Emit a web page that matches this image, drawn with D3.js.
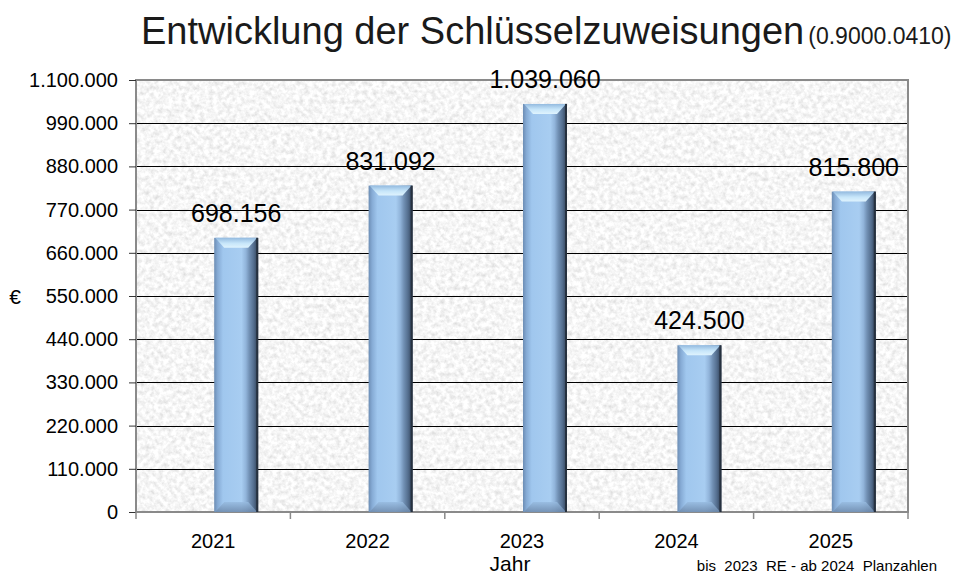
<!DOCTYPE html>
<html>
<head>
<meta charset="utf-8">
<script src="https://cdn.jsdelivr.net/npm/d3@7"></script>
<style>
  html, body { margin: 0; padding: 0; background: #fff; }
  svg { display: block; font-family: "Liberation Sans", Arial, sans-serif; }
</style>
</head>
<body>
<svg id="chart" width="956" height="577"></svg>
<script>
// Schlüsselzuweisungen je Jahr (bis 2023 Rechnungsergebnis, ab 2024 Plan)
const years = ["2021", "2022", "2023", "2024", "2025"];
const amounts = [698156, 831092, 1039060, 424500, 815800];
const yTicks = [0, 110000, 220000, 330000, 440000, 550000, 660000, 770000, 880000, 990000, 1100000];

const titleMain = "Entwicklung der Schlüsselzuweisungen";
const titleCode = "(0.9000.0410)";
const yTitle = "€";
const xTitle = "Jahr";
const footnote = "bis  2023  RE - ab 2024  Planzahlen";

const svg = d3.select("#chart");
const plot = { left: 136, right: 908, top: 80, bottom: 512 };

const de = d3.formatLocale({ decimal: ",", thousands: ".", grouping: [3], currency: ["", " €"] });
const fmt = de.format(",d");

const x = d3.scaleBand().domain(years).range([plot.left, plot.right]).paddingInner(0).paddingOuter(0);
const y = d3.scaleLinear().domain([0, 1100000]).range([plot.bottom, plot.top]);

const defs = svg.append("defs");

// granite-like texture for the plot background
const tex = defs.append("filter").attr("id", "granite")
  .attr("x", 0).attr("y", 0).attr("width", 1).attr("height", 1);
tex.append("feTurbulence").attr("type", "fractalNoise")
  .attr("baseFrequency", 0.22).attr("numOctaves", 3).attr("seed", 7).attr("result", "n");
tex.append("feColorMatrix").attr("in", "n").attr("type", "matrix")
  .attr("values", "0.5 0 0 0 0.67  0.5 0 0 0 0.67  0.5 0 0 0 0.67  0 0 0 0 1");

// bar face: shaded from left to right
const face = defs.append("linearGradient").attr("id", "barFace")
  .attr("x1", 0).attr("x2", 1).attr("y1", 0).attr("y2", 0);
[[0, "#6c8db4"], [0.08, "#86abd5"], [0.2, "#a0c7ee"], [0.62, "#a8cdf1"],
 [0.72, "#91b4da"], [0.8, "#7190b4"], [0.9, "#536d8d"], [1, "#2e3d52"]]
  .forEach(([o, c]) => face.append("stop").attr("offset", o).attr("stop-color", c));

const topBevel = defs.append("linearGradient").attr("id", "barTop")
  .attr("x1", 0).attr("x2", 0).attr("y1", 0).attr("y2", 1);
[[0, "#93badf"], [0.55, "#c7e6fa"], [1, "#dff3fd"]]
  .forEach(([o, c]) => topBevel.append("stop").attr("offset", o).attr("stop-color", c));

const botBevel = defs.append("linearGradient").attr("id", "barBottom")
  .attr("x1", 0).attr("x2", 0).attr("y1", 0).attr("y2", 1);
[[0, "#97bbe0"], [1, "#6d89ab"]]
  .forEach(([o, c]) => botBevel.append("stop").attr("offset", o).attr("stop-color", c));

// plot background
svg.append("rect")
  .attr("x", plot.left).attr("y", plot.top)
  .attr("width", plot.right - plot.left).attr("height", plot.bottom - plot.top)
  .attr("fill", "#e6e6e6").attr("filter", "url(#granite)");

// horizontal gridlines
svg.append("g").selectAll("line").data(yTicks.filter(t => t > 0 && t < 1100000)).join("line")
  .attr("x1", plot.left).attr("x2", plot.right)
  .attr("y1", d => Math.round(y(d)) + 0.5).attr("y2", d => Math.round(y(d)) + 0.5)
  .attr("stroke", "#000").attr("stroke-width", 1);

// plot border
svg.append("rect")
  .attr("x", plot.left).attr("y", plot.top)
  .attr("width", plot.right - plot.left).attr("height", plot.bottom - plot.top)
  .attr("fill", "none").attr("stroke", "#8a8a8a").attr("stroke-width", 2);

// y axis
const yAxis = d3.axisLeft(y).tickValues(yTicks).tickFormat(fmt).tickSizeOuter(0).tickSize(7).tickPadding(11);
const gy = svg.append("g").attr("transform", `translate(${plot.left},0)`).call(yAxis);
gy.select(".domain").remove();
gy.selectAll(".tick line").attr("stroke", "#333");
gy.selectAll(".tick text").attr("font-size", 20).attr("fill", "#000")
  .attr("font-family", "Liberation Sans, Arial, sans-serif");

// x axis: ticks between categories, labels at the centres
const bounds = years.map(d => x(d)).concat([plot.right]);
const gx = svg.append("g");
gx.append("line").attr("x1", plot.left).attr("x2", plot.right)
  .attr("y1", plot.bottom).attr("y2", plot.bottom).attr("stroke", "#8a8a8a").attr("stroke-width", 2);
gx.selectAll("line.tk").data(bounds).join("line").attr("class", "tk")
  .attr("x1", d => d).attr("x2", d => d)
  .attr("y1", plot.bottom).attr("y2", plot.bottom + 7)
  .attr("stroke", "#8a8a8a").attr("stroke-width", 1.5);
gx.selectAll("text").data(years).join("text")
  .attr("x", d => x(d) + x.bandwidth() / 2)
  .attr("y", plot.bottom + 36)
  .attr("text-anchor", "middle").attr("font-size", 20).text(d => d);

// bars (drawn to the right of each category centre, as a bevelled column)
const barW = 44;
const bev = 10;
const bars = svg.append("g").selectAll("g").data(years.map((d, i) => ({ year: d, v: amounts[i] }))).join("g");
bars.each(function (d) {
  const g = d3.select(this);
  const x0 = x(d.year) + x.bandwidth() / 2 + 1;
  const x1 = x0 + barW;
  const yt = y(d.v), yb = y(0);
  g.append("rect").attr("x", x0).attr("y", yt).attr("width", barW).attr("height", yb - yt)
    .attr("fill", "url(#barFace)");
  g.append("polygon")
    .attr("points", [[x0 + 1, yt], [x1 - 1, yt], [x1 - bev, yt + bev], [x0 + bev, yt + bev]].join(" "))
    .attr("fill", "url(#barTop)");
  g.append("polygon")
    .attr("points", [[x0 + bev, yb - bev], [x1 - bev, yb - bev], [x1 - 1, yb], [x0 + 1, yb]].join(" "))
    .attr("fill", "url(#barBottom)").attr("opacity", 0.85);
  g.append("rect").attr("x", x1 - 2).attr("y", yt).attr("width", 2).attr("height", yb - yt)
    .attr("fill", "#26313f");
});

// value labels
svg.append("g").selectAll("text").data(years.map((d, i) => ({ year: d, v: amounts[i] }))).join("text")
  .attr("x", d => x(d.year) + x.bandwidth() / 2 + 1 + barW / 2)
  .attr("y", d => y(d.v) - 16)
  .attr("text-anchor", "middle").attr("font-size", 25).attr("fill", "#000")
  .text(d => fmt(d.v));

// titles
const t = svg.append("text").attr("x", 141).attr("y", 44).attr("fill", "#1a1a1a");
t.append("tspan").attr("font-size", 38).text(titleMain);
t.append("tspan").attr("font-size", 23).attr("dx", 4).text(titleCode);

svg.append("text").attr("x", 15).attr("y", 304).attr("text-anchor", "middle")
  .attr("font-size", 21).text(yTitle);
svg.append("text").attr("x", 510).attr("y", 571).attr("text-anchor", "middle")
  .attr("font-size", 21).text(xTitle);
svg.append("text").attr("x", 937).attr("y", 571).attr("text-anchor", "end")
  .attr("font-size", 15).attr("xml:space", "preserve").style("white-space", "pre").text(footnote);
</script>
</body>
</html>
